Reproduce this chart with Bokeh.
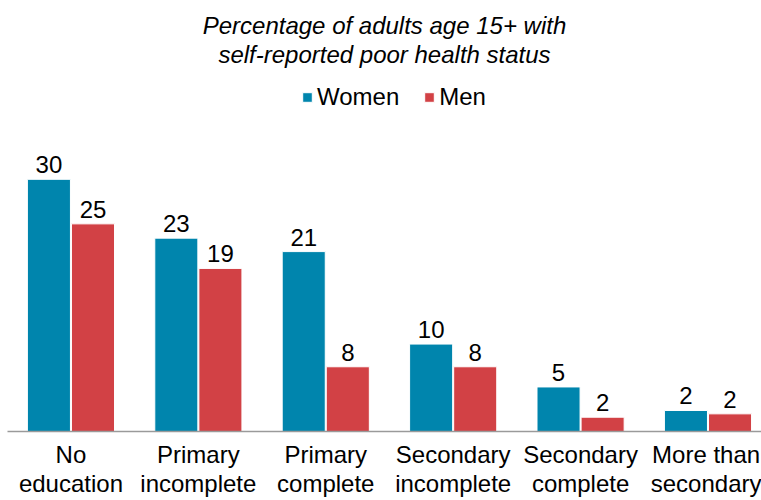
import numpy as np
from bokeh.plotting import figure
from bokeh.models import Range1d, FixedTicker, Title, Legend, LegendItem, ColumnDataSource
from bokeh.core.properties import value
from bokeh.embed import file_html
from bokeh.resources import INLINE

categories = ["No\neducation", "Primary\nincomplete", "Primary\ncomplete",
              "Secondary\nincomplete", "Secondary\ncomplete", "More than\nsecondary"]
women = [30.0, 23.0, 21.4, 10.4, 5.3, 2.5]
men = [24.7, 19.4, 7.7, 7.7, 1.7, 2.1]
women_labels = ["30", "23", "21", "10", "5", "2"]
men_labels = ["25", "19", "8", "8", "2", "2"]

BLUE = "#0085AD"
RED = "#D24145"
FONT = "Liberation Sans"
FS = "24px"

idx = np.arange(len(categories))
off = 0.173
bw = 0.338

src_w = ColumnDataSource(dict(x=idx - off, y=women, t=women_labels))
src_m = ColumnDataSource(dict(x=idx + off, y=men, t=men_labels))

p = figure(width=761, height=500, x_range=Range1d(-0.498, 5.42), y_range=Range1d(0, 43.3),
           output_backend="svg", toolbar_location=None, title=None,
           min_border_left=7, min_border_right=0, min_border_top=67, min_border_bottom=0)

rw = p.vbar(x="x", top="y", width=bw, source=src_w, fill_color=BLUE, line_color="white", line_width=1)
rm = p.vbar(x="x", top="y", width=bw, source=src_m, fill_color=RED, line_color="white", line_width=1)

for s in (src_w, src_m):
    p.text(x="x", y="y", text="t", source=s, text_align="center", text_baseline="bottom",
           y_offset=-6, text_font=value(FONT), text_font_size=FS, text_color="black")

p.xaxis.ticker = FixedTicker(ticks=list(range(len(categories))))
p.xaxis.major_label_overrides = {i: c for i, c in enumerate(categories)}
p.xaxis.major_tick_line_color = None
p.xaxis.minor_tick_line_color = None
p.xaxis.axis_line_color = "#9a9a9a"
p.xaxis.axis_line_width = 1.5
p.xaxis.major_label_text_font = FONT
p.xaxis.major_label_text_font_size = FS
p.xaxis.major_label_text_color = "black"
p.xaxis.major_label_text_line_height = 1.1
p.xaxis.major_label_standoff = 3
p.yaxis.visible = False
p.xgrid.grid_line_color = None
p.ygrid.grid_line_color = None
p.outline_line_color = None

legend = Legend(items=[LegendItem(label="Women", renderers=[rw]), LegendItem(label="Men", renderers=[rm])],
                orientation="horizontal", location=(294, 320), label_text_font=FONT,
                label_text_font_size=FS, label_text_color="black", glyph_width=12, glyph_height=12,
                spacing=24, label_standoff=4, border_line_color=None, background_fill_alpha=0,
                padding=0, margin=0)
p.add_layout(legend)
p.add_layout(Title(text="self-reported poor health status", align="center", text_font=FONT,
                   text_font_style="italic", text_font_size=FS, text_color="black",
                   standoff=0, offset=14), "above")
p.add_layout(Title(text="Percentage of adults age 15+ with", align="center", text_font=FONT,
                   text_font_style="italic", text_font_size=FS, text_color="black",
                   standoff=0, offset=14), "above")

open("out.html", "w").write(file_html(p, INLINE))
